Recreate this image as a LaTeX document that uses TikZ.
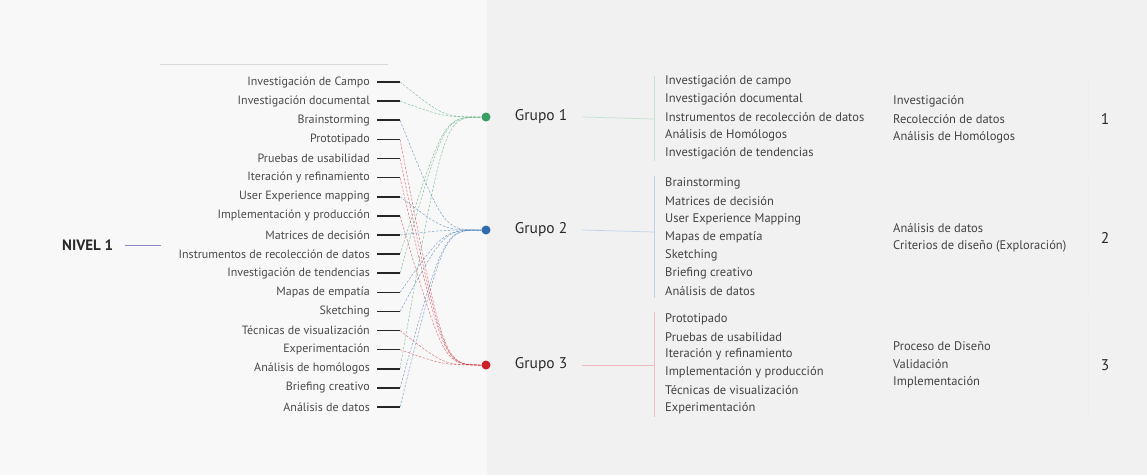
\documentclass[tikz,border=0pt]{standalone}
\usepackage{fontspec}
\setmainfont{PT Sans}
\usetikzlibrary{calc,positioning}

\definecolor{leftbg}{HTML}{F8F8F8}
\definecolor{rightbg}{HTML}{F1F1F1}
\definecolor{itemgray}{HTML}{4A4A4A}
\definecolor{textdark}{HTML}{2A2A2A}
\definecolor{gone}{HTML}{3A9E62}
\definecolor{gtwo}{HTML}{2F6DB0}
\definecolor{gthree}{HTML}{CC1F2A}

\tikzset{
  item/.style={anchor=east, inner sep=0pt, text=itemgray, font=\fontsize{12}{14}\selectfont},
  entry/.style={anchor=west, inner sep=0pt, text=itemgray!90!black, font=\fontsize{12.5}{14}\selectfont},
  grp/.style={inner sep=0pt, text=textdark, font=\fontsize{15.5}{17}\selectfont},
  dot/.style={circle, fill=#1, inner sep=0pt, minimum size=9pt},
  dashmark/.style={line width=1.6pt, black!85},
  link/.style={line width=0.5pt, dash pattern=on 2.5pt off 1.5pt, draw=#1, draw opacity=0.6},
  tie/.style={line width=0.7pt, draw=#1!30},
}

\begin{document}
\begin{tikzpicture}[x=1pt,y=-1pt]
\useasboundingbox (0,0) rectangle (1147,475);
\fill[leftbg] (0,0) rectangle (487,475);
\fill[rightbg] (487,0) rectangle (1147,475);
\draw[black!15, line width=0.6pt] (160,64) -- (388,64);

% nivel
\node[grp, anchor=west, font=\fontsize{15}{17}\selectfont\bfseries] (nivel) at (62,245) {NIVEL 1};
\draw[line width=0.7pt, color=blue!30!gray!70] ([xshift=12pt]nivel.east) -- ++(36,0);

% left list
\foreach \txt [count=\i] in {Investigación de Campo, Investigación documental, Brainstorming, Prototipado, Pruebas de usabilidad, Iteración y refinamiento, User Experience mapping, Implementación y producción, Matrices de decisión, Instrumentos de recolección de datos, Investigación de tendencias, Mapas de empatía, Sketching, Técnicas de visualización, Experimentación, Análisis de homólogos, Briefing creativo, Análisis de datos}{
  \node[item] (l\i) at (370,{82+(\i-1)*19.12}) {\txt};
  \draw[dashmark] ([xshift=7pt]l\i.east) coordinate (a\i) -- ++(23,0) coordinate (b\i);
}

% groups
\node[dot=gone] (g1) at (486,117) {};
\node[dot=gtwo] (g2) at (486,230) {};
\node[dot=gthree] (g3) at (486,365) {};
\node[grp, anchor=west, right=24pt of g1] (t1) {Grupo 1};
\node[grp, anchor=west, right=24pt of g2] (t2) {Grupo 2};
\node[grp, anchor=west, right=24pt of g3] (t3) {Grupo 3};

% connectors
\foreach \i/\g/\c in {1/1/gone,2/1/gone,10/1/gone,16/1/gone,11/1/gone,3/2/gtwo,9/2/gtwo,7/2/gtwo,12/2/gtwo,13/2/gtwo,17/2/gtwo,18/2/gtwo,4/3/gthree,5/3/gthree,6/3/gthree,8/3/gthree,14/3/gthree,15/3/gthree}{
  \draw[link=\c] (b\i) .. controls ($(g\g)+(-42,0)$) .. (g\g.west);
}

% brackets
\coordinate (k1) at (654,119);
\coordinate (k2) at (654,232);
\coordinate (k3) at (654,365);
\draw[tie=gone] ([xshift=15pt]t1.east) -- (k1);
\draw[tie=gtwo] ([xshift=15pt]t2.east) -- (k2);
\draw[tie=gthree] ([xshift=15pt]t3.east) -- (k3);
\draw[tie=gone] (654,76) -- (654,161);
\draw[tie=gtwo] (654,176) -- (654,298);
\draw[tie=gthree] (654,312) -- (654,417);

% group lists
\foreach \txt [count=\i] in {Investigación de campo, Investigación documental, Instrumentos de recolección de datos, Análisis de Homólogos, Investigación de tendencias}
  \node[entry] (r1\i) at (665,{81+(\i-1)*18.2}) {\txt};
\foreach \txt [count=\i] in {Brainstorming, Matrices de decisión, User Experience Mapping, Mapas de empatía, Sketching, Briefing creativo, Análisis de datos}
  \node[entry] (r2\i) at (665,{183+(\i-1)*18}) {\txt};
\foreach \txt [count=\i] in {Prototipado, Pruebas de usabilidad, Iteración y refinamiento, Implementación y producción, Técnicas de visualización, Experimentación}
  \node[entry] (r3\i) at (665,{319+(\i-1)*17.8}) {\txt};

% summary
\foreach \txt [count=\i] in {Investigación, Recolección de datos, Análisis de Homólogos}
  \node[entry] (s1\i) at (893,{101+(\i-1)*18}) {\txt};
\foreach \txt [count=\i] in {Análisis de datos, Criterios de diseño (Exploración)}
  \node[entry] (s2\i) at (893,{228+(\i-1)*18}) {\txt};
\foreach \txt [count=\i] in {Proceso de Diseño, Validación, Implementación}
  \node[entry] (s3\i) at (893,{346+(\i-1)*18}) {\txt};

\draw[black!7, line width=0.8pt] (1088,77) -- (1088,160);
\draw[black!7, line width=0.8pt] (1088,178) -- (1088,297);
\draw[black!7, line width=0.8pt] (1088,312) -- (1088,417);
\node[grp] (n1) at (1105,119) {1};
\node[grp] (n2) at (1105,238) {2};
\node[grp] (n3) at (1105,365) {3};
\end{tikzpicture}
\end{document}
